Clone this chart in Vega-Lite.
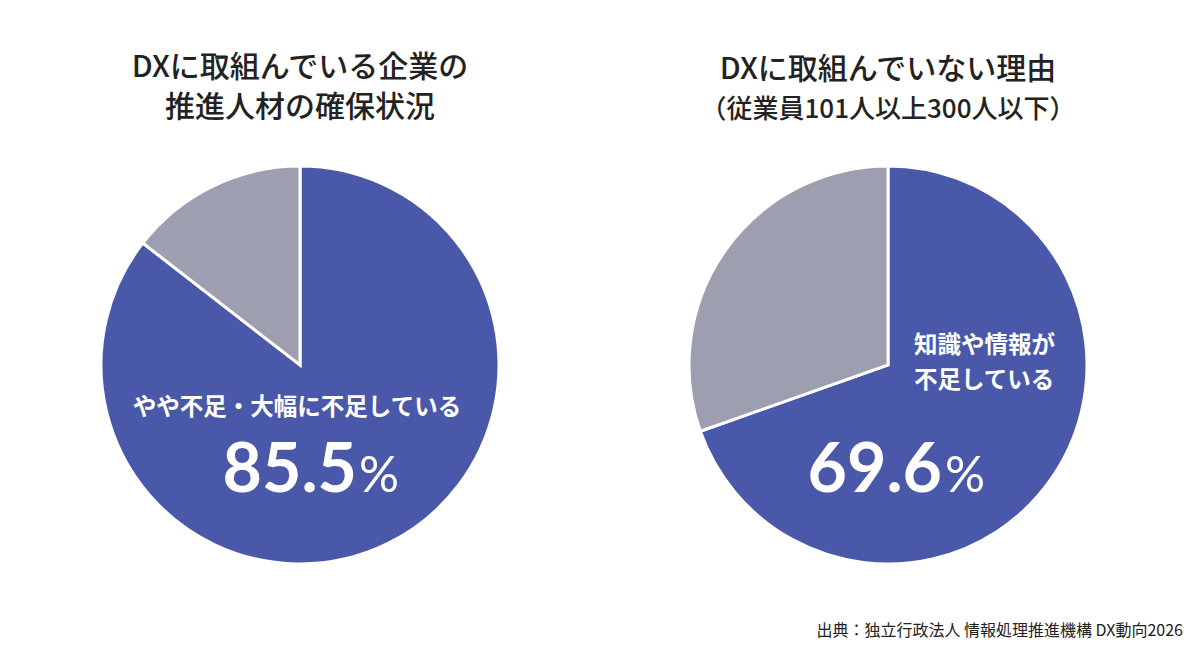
{
  "$schema": "https://vega.github.io/schema/vega-lite/v6.json",
  "background": "white",
  "padding": {"left": 20, "top": 53, "right": 17, "bottom": 0},
  "config": {
    "view": {"stroke": null},
    "font": "Noto Sans CJK JP",
    "title": {"color": "#222222", "font": "Noto Sans CJK JP", "fontWeight": 500, "anchor": "middle"}
  },
  "title": {
    "text": "出典：独立行政法人 情報処理推進機構 DX動向2026",
    "orient": "bottom",
    "anchor": "end",
    "fontSize": 16,
    "fontWeight": "normal",
    "color": "#222222",
    "offset": 48,
    "dx": 15
  },
  "spacing": 28,
  "hconcat": [
    {
      "width": 560,
      "height": 420,
      "title": {
        "text": ["DXに取組んでいる企業の", "推進人材の確保状況"],
        "fontSize": 30,
        "lineHeight": 40,
        "offset": 32
      },
      "data": {
        "values": [
          {"cat": "やや不足・大幅に不足している", "pct": 85.5},
          {"cat": "その他", "pct": 14.5}
        ]
      },
      "layer": [
        {
          "mark": {"type": "arc", "stroke": "white", "strokeWidth": 3},
          "encoding": {
            "theta": {"field": "pct", "type": "quantitative", "stack": true, "scale": {"domain": [0, 100]}},
            "order": {"field": "pct", "sort": "descending"},
            "radius": {"condition": {"test": "datum.pct < 50", "value": 181}, "value": 199},
            "color": {"condition": {"test": "datum.pct < 50", "value": "#9d9eb0"}, "value": "#4a58a9"}
          }
        },
        {
          "transform": [{"filter": "datum.pct > 50"}],
          "mark": {"type": "text", "color": "white", "fontSize": 23.5, "fontWeight": "bold", "baseline": "middle", "align": "center", "dx": -3, "dy": 43},
          "encoding": {"text": {"field": "cat"}}
        },
        {
          "transform": [{"filter": "datum.pct > 50"}],
          "mark": {"type": "text", "color": "white", "font": "Lato", "fontSize": 68, "fontWeight": "bold", "baseline": "alphabetic", "align": "right", "dx": 57, "dy": 127},
          "encoding": {"text": {"field": "pct", "type": "quantitative", "format": ".1f"}}
        },
        {
          "transform": [{"filter": "datum.pct > 50"}],
          "mark": {"type": "text", "color": "white", "font": "Lato", "fontSize": 50, "fontWeight": "normal", "baseline": "alphabetic", "align": "left", "dx": 59, "dy": 127},
          "encoding": {"text": {"value": "%"}}
        }
      ]
    },
    {
      "width": 560,
      "height": 420,
      "title": {
        "text": "DXに取組んでいない理由",
        "subtitle": "（従業員101人以上300人以下）",
        "fontSize": 30,
        "lineHeight": 40,
        "subtitleFontSize": 26,
        "subtitleFontWeight": 500,
        "subtitleColor": "#222222",
        "subtitlePadding": 12,
        "offset": 32
      },
      "data": {
        "values": [
          {"cat": "知識や情報が不足している", "pct": 69.6},
          {"cat": "その他", "pct": 30.4}
        ]
      },
      "layer": [
        {
          "mark": {"type": "arc", "stroke": "white", "strokeWidth": 3},
          "encoding": {
            "theta": {"field": "pct", "type": "quantitative", "stack": true, "scale": {"domain": [0, 100]}},
            "order": {"field": "pct", "sort": "descending"},
            "radius": {"condition": {"test": "datum.pct < 50", "value": 182}, "value": 199},
            "color": {"condition": {"test": "datum.pct < 50", "value": "#9d9eb0"}, "value": "#4a58a9"}
          }
        },
        {
          "transform": [{"filter": "datum.pct > 50"}],
          "mark": {"type": "text", "color": "white", "fontSize": 23.5, "fontWeight": "bold", "baseline": "middle", "align": "left", "lineHeight": 35, "dx": 26, "dy": -19},
          "encoding": {"text": {"value": ["知識や情報が", "不足している"]}}
        },
        {
          "transform": [{"filter": "datum.pct > 50"}],
          "mark": {"type": "text", "color": "white", "font": "Lato", "fontSize": 68, "fontWeight": "bold", "baseline": "alphabetic", "align": "right", "dx": 54, "dy": 127},
          "encoding": {"text": {"field": "pct", "type": "quantitative", "format": ".1f"}}
        },
        {
          "transform": [{"filter": "datum.pct > 50"}],
          "mark": {"type": "text", "color": "white", "font": "Lato", "fontSize": 50, "fontWeight": "normal", "baseline": "alphabetic", "align": "left", "dx": 57, "dy": 127},
          "encoding": {"text": {"value": "%"}}
        }
      ]
    }
  ]
}
